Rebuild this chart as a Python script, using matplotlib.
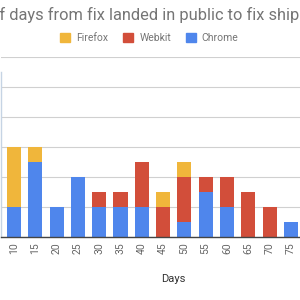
import numpy as np
import matplotlib
matplotlib.use("Agg")
import matplotlib.pyplot as plt
from matplotlib.patches import Patch

plt.rcParams['font.family'] = ['Roboto', 'DejaVu Sans']

days = ['10', '15', '20', '25', '30', '35', '40', '45', '50', '55', '60', '65', '70', '75']
chrome = [2, 5, 2, 4, 2, 2, 2, 0, 1, 3, 2, 0, 0, 1]
webkit = [0, 0, 0, 0, 1, 1, 3, 2, 3, 1, 2, 3, 2, 0]
firefox = [4, 1, 0, 0, 0, 0, 0, 1, 1, 0, 0, 0, 0, 0]

title = 'Number of days from fix landed in public to fix shipped'

c_chrome = '#4f86ec'
c_webkit = '#d24e3a'
c_firefox = '#f0b63b'
grey = '#757575'

W = H = 300
fig = plt.figure(figsize=(3, 3), dpi=100)

# plot area (pixel coords), left y-labels are cut off in the original
px_per_cat = 21.3
x0 = -(13 / px_per_cat)
ax_left, ax_right = 1, 1 + (len(days) - 1 - 2 * x0) * px_per_cat
ax_bottom, ax_top = 63, 243
ax = fig.add_axes([ax_left / W, ax_bottom / H, (ax_right - ax_left) / W, (ax_top - ax_bottom) / H])

x = np.arange(len(days))
bw = 0.66
chrome = np.array(chrome)
webkit = np.array(webkit)
firefox = np.array(firefox)
ax.bar(x, chrome, bw, color=c_chrome, zorder=3)
ax.bar(x, webkit, bw, bottom=chrome, color=c_webkit, zorder=3)
ax.bar(x, firefox, bw, bottom=chrome + webkit, color=c_firefox, zorder=3)

ax.set_xlim(x0, len(days) - 1 - x0)
ax.set_ylim(0, 12)
ax.set_yticks(range(0, 13, 2))
ax.yaxis.grid(True, color='#d0d0d0', lw=0.8, zorder=0)
ax.tick_params(axis='y', length=0, labelleft=False)
ax.set_xticks(x)
ax.set_xticklabels(days, rotation=90, fontsize=7.5, color='#666666')
ax.tick_params(axis='x', length=0, pad=4)
for s in ['top', 'right']:
    ax.spines[s].set_visible(False)
ax.spines['bottom'].set_color('#444444')
ax.spines['bottom'].set_linewidth(1)
ax.spines['bottom'].set_zorder(4)
ax.spines['left'].set_color('#c6d4e4')
ax.spines['left'].set_bounds(0, 11)
ax.spines['left'].set_linewidth(1)

fig.text(173 / W, 1 - 279 / H, 'Days', ha='center', va='center', fontsize=8, color='#333333')

# title: the left part is cropped off like in the reference
fs_title = 11.8
fig.canvas.draw()
r = fig.canvas.get_renderer()
probe = fig.text(0, 0, 'Number o', fontsize=fs_title)
wpx = probe.get_window_extent(r).width
probe.remove()
fig.text((-wpx - 1) / W, 1 - 15 / H, title, ha='left', va='center', fontsize=fs_title, color=grey)

handles = [Patch(color=c_firefox, label='Firefox'),
           Patch(color=c_webkit, label='Webkit'),
           Patch(color=c_chrome, label='Chrome')]
fig.legend(handles=handles, loc='center', bbox_to_anchor=(149.5 / W, 1 - 38 / H), ncol=3,
           frameon=False, fontsize=7.5, labelcolor=grey, handlelength=0.95, handleheight=0.95,
           handletextpad=0.6, columnspacing=1.4)

fig.savefig('out.png', dpi=100)
